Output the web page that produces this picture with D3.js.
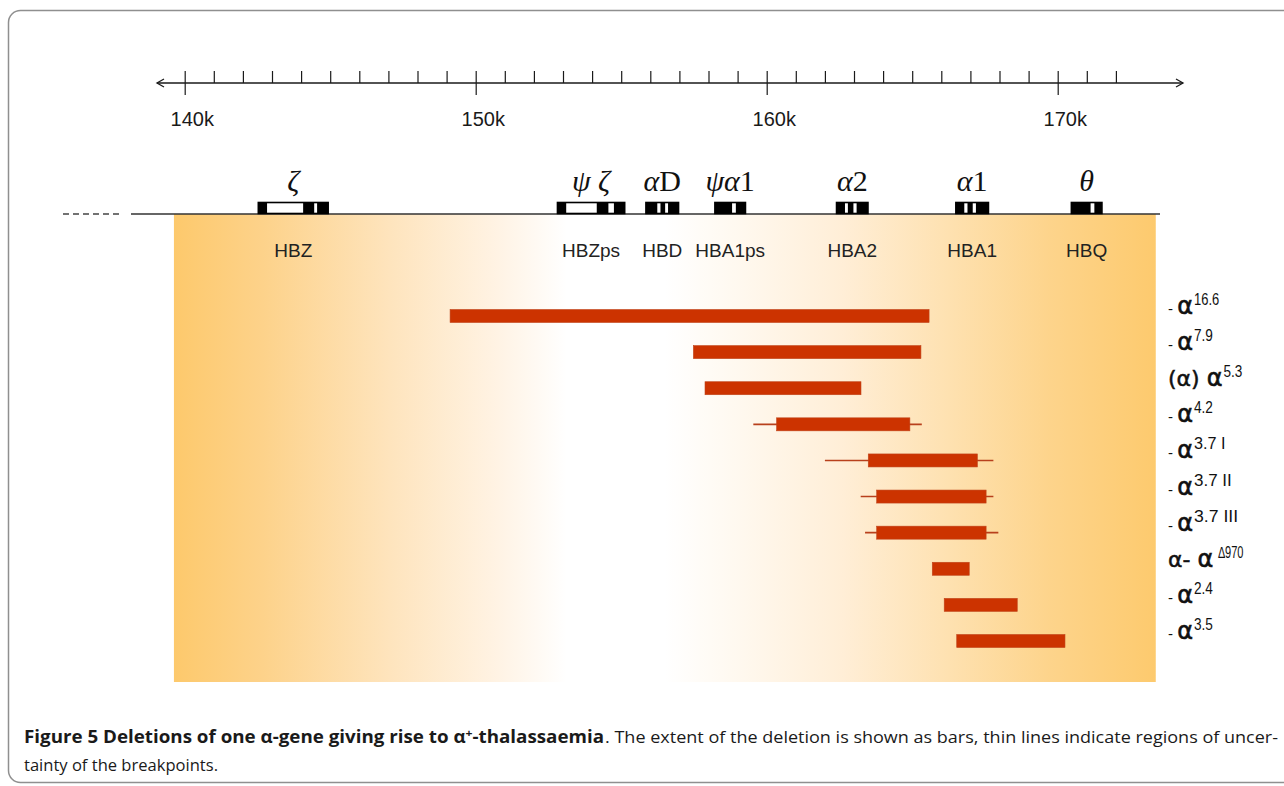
<!DOCTYPE html>
<html>
<head>
<meta charset="utf-8">
<script src="https://cdn.jsdelivr.net/npm/d3@7"></script>
<style>
  html, body { margin: 0; padding: 0; background: #ffffff; }
  svg { display: block; }
</style>
</head>
<body>
<svg id="chart" width="1284" height="786"></svg>
<script>
// ---------------- data ----------------
const axisTicks = d3.range(140, 173);          // kb, minor ticks
const axisMajor = [140, 150, 160, 170];          // kb, labelled ticks
const axisLabels = ["140k", "150k", "160k", "170k"];

const geneNames   = ["HBZ", "HBZps", "HBD", "HBA1ps", "HBA2", "HBA1", "HBQ"];
const geneSymbols = [["ζ"], ["ψ", " ", "ζ"], ["α", "D"], ["ψ", "α", "1"], ["α", "2"], ["α", "1"], ["θ"]];
const geneStart   = [142.53, 152.81, 155.85, 158.22, 162.40, 166.50, 170.47];
const geneEnd     = [144.93, 155.12, 156.97, 159.27, 163.48, 167.62, 171.52];
const geneExons   = [
  [[142.53, 142.83], [144.07, 144.45], [144.55, 144.93]],
  [[152.81, 153.11], [154.16, 154.56], [154.75, 155.12]],
  [[155.85, 156.24], [156.35, 156.51], [156.61, 156.97]],
  [[158.22, 158.81], [158.94, 159.27]],
  [[162.40, 162.69], [162.79, 162.98], [163.09, 163.48]],
  [[166.50, 166.79], [166.90, 167.08], [167.19, 167.62]],
  [[170.47, 171.13], [171.26, 171.52]]
];

const deletions   = ["16.6", "7.9", "5.3", "4.2", "3.7 I", "3.7 II", "3.7 III", "Δ970", "2.4", "3.5"];
const labelPrefix = ["- ", "- ", "(α) ", "- ", "- ", "- ", "- ", "α- ", "- ", "- "];
const barStart    = [149.12, 157.48, 157.88, 160.34, 163.49, 163.78, 163.78, 165.69, 166.10, 166.53];
const barEnd      = [165.58, 165.30, 163.24, 164.92, 167.24, 167.54, 167.54, 166.96, 168.61, 170.25];
const uncStart    = [null, null, null, 159.54, 162.00, 163.23, 163.38, null, null, null];
const uncEnd      = [null, null, null, 165.33, 167.79, 167.79, 167.96, null, null, null];

const regionStart = 139.63, regionEnd = 173.37;   // shaded region, kb

// ---------------- drawing ----------------
const svg = d3.select("#chart");
const x = d3.scaleLinear().domain([140, 170]).range([184.7, 1057.7]);
const y = d3.scalePoint().domain(deletions).range([316, 641]);

// frame
svg.append("rect")
  .attr("x", 8.5).attr("y", 10.5).attr("width", 1300).attr("height", 772)
  .attr("rx", 12).attr("ry", 12)
  .attr("fill", "none").attr("stroke", "#8f8f8f").attr("stroke-width", 1.5);

// gradient shading
const defs = svg.append("defs");
const grad = defs.append("linearGradient").attr("id", "shade").attr("x1", "0%").attr("x2", "100%");
[[0, "#fdc96c"], [0.09, "#fdd28a"], [0.22, "#fee4bd"], [0.33, "#fff3e4"], [0.40, "#ffffff"],
 [0.50, "#ffffff"], [0.58, "#fff8ee"], [0.68, "#ffeed7"], [0.79, "#fee1b0"], [0.89, "#fdd48c"], [1, "#fdca6e"]]
  .forEach(s => grad.append("stop").attr("offset", s[0]).attr("stop-color", s[1]));
svg.append("rect")
  .attr("x", x(regionStart)).attr("y", 214)
  .attr("width", x(regionEnd) - x(regionStart)).attr("height", 682 - 214)
  .attr("fill", "url(#shade)");

// ---- top coordinate axis ----
const axisY = 83;
const gAxis = svg.append("g").attr("transform", `translate(0,${axisY})`);
gAxis.append("line")
  .attr("x1", 157).attr("x2", 1183).attr("y1", 0).attr("y2", 0)
  .attr("stroke", "#1a1a1a").attr("stroke-width", 1.3);
// arrow heads
gAxis.append("path").attr("d", "M164,-4 L157,0 L164,4").attr("fill", "none").attr("stroke", "#1a1a1a").attr("stroke-width", 1.3);
gAxis.append("path").attr("d", "M1176,-4 L1183,0 L1176,4").attr("fill", "none").attr("stroke", "#1a1a1a").attr("stroke-width", 1.3);

const minorAxis = d3.axisTop(x).tickValues(axisTicks).tickSize(12).tickFormat("");
const gMinor = gAxis.append("g").call(minorAxis);
gMinor.select(".domain").remove();
gMinor.selectAll(".tick line").attr("stroke", "#1a1a1a").attr("stroke-width", 1.2);

const majorAxis = d3.axisBottom(x).tickValues(axisMajor).tickSize(12)
  .tickFormat((d, i) => axisLabels[i]);
const gMajor = gAxis.append("g").call(majorAxis);
gMajor.select(".domain").remove();
gMajor.selectAll(".tick line").attr("stroke", "#1a1a1a").attr("stroke-width", 1.2);
gMajor.selectAll(".tick text")
  .attr("y", 43).attr("dy", 0).attr("dx", 7)
  .attr("font-family", "Liberation Sans, Arial, sans-serif")
  .attr("font-size", 20).attr("fill", "#1a1a1a");

// ---- gene line ----
const lineY = 214;
svg.append("line").attr("x1", 63).attr("x2", 122).attr("y1", lineY).attr("y2", lineY)
  .attr("stroke", "#444").attr("stroke-width", 1.3).attr("stroke-dasharray", "6,4");
svg.append("line").attr("x1", 131).attr("x2", 1160).attr("y1", lineY).attr("y2", lineY)
  .attr("stroke", "#333").attr("stroke-width", 1.6);

// gene boxes
const genes = geneNames.map((n, i) => ({ name: n, sym: geneSymbols[i], s: geneStart[i], e: geneEnd[i], exons: geneExons[i] }));
const gGenes = svg.append("g");
const gg = gGenes.selectAll("g.gene").data(genes).enter().append("g").attr("class", "gene");
gg.append("rect")
  .attr("x", d => x(d.s)).attr("y", 202.5)
  .attr("width", d => x(d.e) - x(d.s)).attr("height", 11)
  .attr("fill", "#ffffff").attr("stroke", "#000").attr("stroke-width", 1.6);
gg.selectAll("rect.exon").data(d => d.exons).enter().append("rect")
  .attr("class", "exon")
  .attr("x", d => x(d[0])).attr("y", 202)
  .attr("width", d => x(d[1]) - x(d[0])).attr("height", 12)
  .attr("fill", "#000");
// gene names
gg.append("text")
  .attr("x", d => (x(d.s) + x(d.e)) / 2).attr("y", 257)
  .attr("text-anchor", "middle")
  .attr("font-family", "Liberation Sans, Arial, sans-serif")
  .attr("font-size", 19).attr("fill", "#222")
  .text(d => d.name);
// gene symbols
const symText = gg.append("text")
  .attr("x", d => (x(d.s) + x(d.e)) / 2).attr("y", 191)
  .attr("text-anchor", "middle")
  .attr("font-family", "Liberation Serif, Times New Roman, serif")
  .attr("font-size", 30).attr("fill", "#111");
symText.selectAll("tspan").data(d => d.sym).enter().append("tspan")
  .attr("font-style", s => /[0-9A-Z]/.test(s) ? "normal" : "italic")
  .text(s => s);

// ---- deletion bars ----
const rows = deletions.map((k, i) => ({ key: k, pre: labelPrefix[i], s: barStart[i], e: barEnd[i], us: uncStart[i], ue: uncEnd[i] }));
const gBars = svg.append("g");
gBars.selectAll("line.unc").data(rows.filter(r => r.us !== null)).enter().append("line")
  .attr("class", "unc")
  .attr("x1", d => x(d.us)).attr("x2", d => x(d.ue))
  .attr("y1", d => y(d.key)).attr("y2", d => y(d.key))
  .attr("stroke", "#b8401c").attr("stroke-width", 1.6);
gBars.selectAll("rect.bar").data(rows).enter().append("rect")
  .attr("class", "bar")
  .attr("x", d => x(d.s)).attr("y", d => y(d.key) - 6.5)
  .attr("width", d => x(d.e) - x(d.s)).attr("height", 13)
  .attr("fill", "#cc3300").attr("stroke", "#c0441a").attr("stroke-width", 0.6);

// labels on right
const lab = svg.append("g").selectAll("text").data(rows).enter().append("text")
  .attr("x", 1168).attr("y", d => y(d.key) - 2)
  .attr("font-family", "DejaVu Sans, sans-serif")
  .attr("fill", "#111");
lab.append("tspan")
  .attr("font-size", d => d.pre.length > 2 ? 22 : 15)
  .attr("stroke", d => d.pre.length > 2 ? "#111" : "none")
  .attr("stroke-width", 0.5)
  .attr("font-family", d => d.pre.length > 2 ? "DejaVu Sans, sans-serif" : "Liberation Sans, Arial, sans-serif")
  .text(d => d.pre);
lab.append("tspan").attr("font-size", 24).attr("stroke", "#111").attr("stroke-width", 0.6).text("α");
lab.append("tspan")
  .attr("font-size", 16)
  .attr("font-family", "Liberation Sans, Arial, sans-serif")
  .attr("textLength", d => d.key.length * 6.3)
  .attr("lengthAdjust", "spacingAndGlyphs")
  .attr("dx", d => d.key.startsWith("Δ") ? 5 : 1)
  .attr("dy", -9)
  .text(d => d.key.replace("Δ", "∆"));

// ---- caption ----
const capFont = "Open Sans, Noto Sans, sans-serif";
const cap1 = svg.append("text").attr("x", 24).attr("y", 743)
  .attr("font-family", capFont).attr("font-size", 17).attr("font-weight", 700)
  .attr("fill", "#1a1a1a")
  .attr("textLength", 580).attr("lengthAdjust", "spacingAndGlyphs");
cap1.append("tspan").text("Figure 5 Deletions of one α-gene giving rise to α");
cap1.append("tspan").attr("font-size", 11).attr("dy", -6).text("+");
cap1.append("tspan").attr("dy", 6).text("-thalassaemia");
svg.append("text").attr("x", 605).attr("y", 743)
  .attr("font-family", capFont).attr("font-size", 17).attr("font-weight", 400)
  .attr("fill", "#1a1a1a")
  .attr("textLength", 673).attr("lengthAdjust", "spacingAndGlyphs")
  .text(". The extent of the deletion is shown as bars, thin lines indicate regions of uncer-");
svg.append("text").attr("x", 24).attr("y", 771)
  .attr("font-family", capFont).attr("font-size", 17).attr("font-weight", 400)
  .attr("fill", "#1a1a1a")
  .attr("textLength", 194).attr("lengthAdjust", "spacingAndGlyphs")
  .text("tainty of the breakpoints.");
</script>
</body>
</html>
